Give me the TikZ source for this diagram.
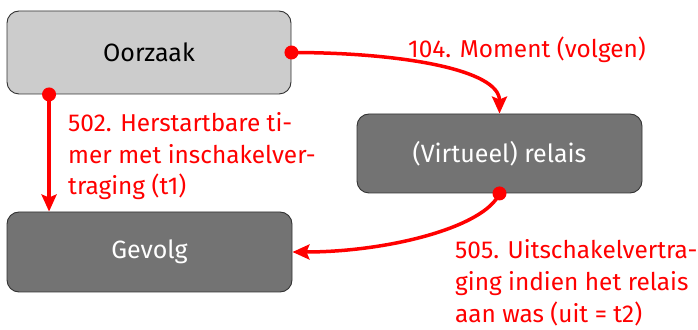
\documentclass[tikz,border=0pt]{standalone}
\usepackage{fontspec}
\setmainfont{Fira Sans}
\usetikzlibrary{arrows.meta,calc}
\definecolor{lgray}{HTML}{CCCCCC}
\definecolor{dgray}{HTML}{737373}
\definecolor{bord}{HTML}{333333}
\definecolor{myred}{HTML}{FF0000}
\begin{document}
\begin{tikzpicture}[x=1pt,y=1pt,
  box/.style={draw=bord,line width=0.9pt,rounded corners=12pt,inner sep=0pt,
    font=\fontsize{25}{31.5}\selectfont},
  lightbox/.style={box,fill=lgray,text=black},
  darkbox/.style={box,fill=dgray,text=white},
  conn/.style={draw=myred,line width=3.5pt,-{Stealth[length=17pt,width=15pt,inset=3pt]}},
  dot/.style={fill=myred},
  lbl/.style={text=myred,font=\fontsize{24.4}{31.5}\selectfont,inner sep=0pt,align=left}]
\useasboundingbox (0,0) rectangle (698,329);
\node[lightbox,minimum width=284pt,minimum height=83pt] (o) at (149,276.5) {Oorzaak};
\node[darkbox,minimum width=285pt,minimum height=79pt] (r) at (499.5,175.5) {(Virtueel) relais};
\node[darkbox,minimum width=285pt,minimum height=80pt] (g) at (149.5,77) {Gevolg};
\coordinate (ob) at ([xshift=42.5pt]o.south west);
\coordinate (gt) at (ob |- g.north);
\draw[conn] (o.east) .. controls ($(o.east)+(109,0)$) and ($(r.north)+(0,44)$) .. (r.north);
\draw[conn] (ob) -- (gt);
\draw[conn] (r.south) .. controls ($(r.south)+(-15,-34)$) and ($(g.east)+(95,0)$) .. (g.east);
\fill[dot] (o.east) circle (7pt);
\fill[dot] (ob) circle (7pt);
\fill[dot] (r.south) circle (7pt);
\node[lbl,anchor=base west] (l1) at (408,271) {104. Moment (volgen)};
\node[lbl,anchor=base west] (l2) at (68,134) {502. Herstartbare ti-\\mer met inschakelver-\\traging (t1)};
\node[lbl,anchor=base west] (l3) at (455,7) {505. Uitschakelvertra-\\ging indien het relais\\aan was (uit = t2)};
\end{tikzpicture}
\end{document}
